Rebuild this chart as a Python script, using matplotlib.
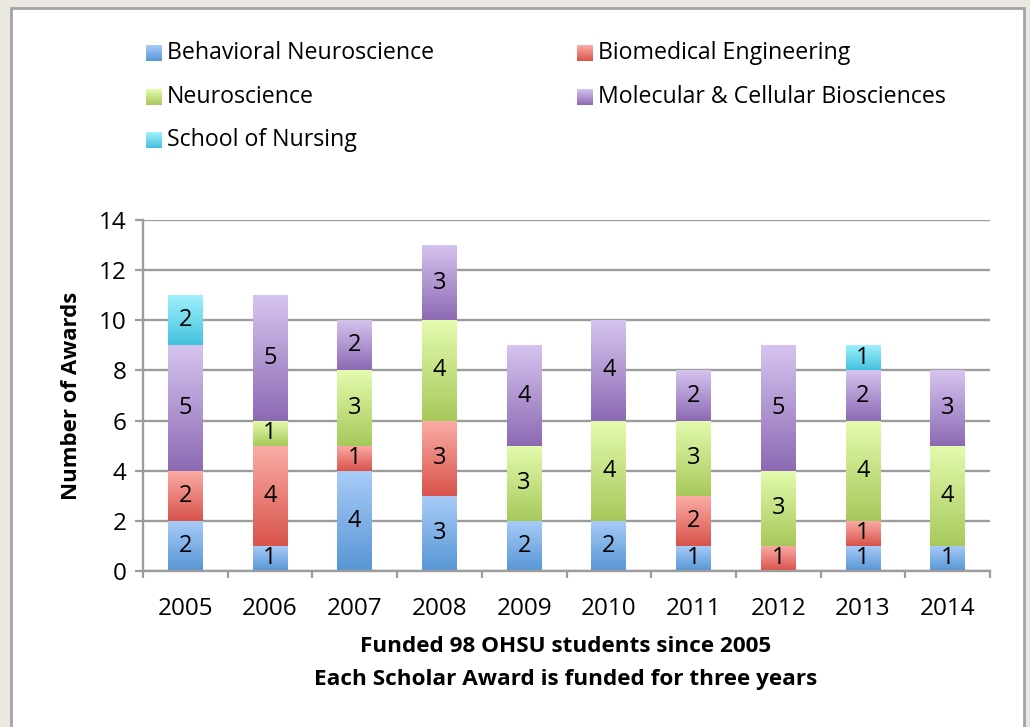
import numpy as np
import matplotlib
matplotlib.use('Agg')
import matplotlib.pyplot as plt
from matplotlib.patches import Rectangle
from matplotlib.colors import to_rgb

plt.rcParams['font.family'] = ['Open Sans', 'DejaVu Sans']

years = ['2005', '2006', '2007', '2008', '2009', '2010', '2011', '2012', '2013', '2014']
behavioral = [2, 1, 4, 3, 2, 2, 1, 0, 1, 1]
biomedical = [2, 4, 1, 3, 0, 0, 2, 1, 1, 0]
neuro = [0, 1, 3, 4, 3, 4, 3, 3, 4, 4]
molecular = [5, 5, 2, 3, 4, 4, 2, 5, 2, 3]
nursing = [2, 0, 0, 0, 0, 0, 0, 0, 1, 0]

series = [
    ('Behavioral Neuroscience', behavioral, '#a9ccf8', '#5796d5'),
    ('Biomedical Engineering', biomedical, '#fbaea7', '#d8534b'),
    ('Neuroscience', neuro, '#e4fbae', '#a7c95b'),
    ('Molecular & Cellular Biosciences', molecular, '#d6c4ef', '#8c6ab4'),
    ('School of Nursing', nursing, '#a2f2fd', '#43c1de'),
]

W, H = 1030, 727
fig = plt.figure(figsize=(W / 100, H / 100), dpi=100)
fig.patch.set_facecolor('#ebe8e2')

# white panel with grey frame
fig.add_artist(Rectangle((11 / W, -0.05), (1024 - 11) / W, 1.05 - 8 / H,
                         transform=fig.transFigure, facecolor='white',
                         edgecolor='#a3a3a3', linewidth=2.0, zorder=0))

ax = fig.add_axes([143 / W, 1 - 571 / H, (990 - 143) / W, (571 - 220) / H])
ax.set_facecolor('none')

x = np.arange(len(years))
width = 0.41
bottom = np.zeros(len(years))
grey = '#9c9c9c'


def gradient(top, bot, n=128):
    t = np.linspace(0, 1, n)[:, None]
    a, b = np.array(to_rgb(top)), np.array(to_rgb(bot))
    return (a * (1 - t) + b * t)[:, None, :]


for name, vals, ctop, cbot in series:
    vals = np.array(vals)
    bars = ax.bar(x, vals, width, bottom=bottom, color=cbot, linewidth=0, zorder=2)
    img = gradient(ctop, cbot)
    for p, v in zip(bars.patches, vals):
        if v <= 0:
            continue
        x0, y0 = p.get_x(), p.get_y()
        im = ax.imshow(img, extent=[x0, x0 + p.get_width(), y0, y0 + p.get_height()],
                       origin='upper', aspect='auto', zorder=2.5, interpolation='bilinear')
        im.set_clip_path(p)
    ax.bar_label(bars, labels=[str(v) if v else '' for v in vals], label_type='center',
                 fontsize=17, color='black', zorder=4)
    bottom += vals

ax.set_xlim(-0.5, len(years) - 0.5)
ax.set_ylim(0, 14)
ax.set_yticks(np.arange(0, 15, 2))
ax.set_xticks(x)
ax.set_xticklabels(years)
ax.set_xticks(np.arange(-0.5, len(years)), minor=True)
ax.tick_params(axis='x', which='major', length=0, labelsize=17.5, pad=19)
ax.tick_params(axis='x', which='minor', length=5, width=1.6, color=grey, direction='out')
ax.tick_params(axis='y', length=6, width=1.6, color=grey, labelsize=17.5, pad=6)

ax.grid(axis='y', color=grey, linewidth=1.7, zorder=0)
ax.set_axisbelow(True)
for s in ['top', 'right']:
    ax.spines[s].set_visible(False)
for s in ['left', 'bottom']:
    ax.spines[s].set_color(grey)
    ax.spines[s].set_linewidth(1.7)

ax.set_ylabel('Number of Awards', fontsize=16, fontweight='bold', labelpad=12)
fig.text(566 / W, 1 - 646 / H, 'Funded 98 OHSU students since 2005',
         ha='center', va='center', fontsize=16.2, fontweight='bold')
fig.text(566 / W, 1 - 679 / H, 'Each Scholar Award is funded for three years',
         ha='center', va='center', fontsize=16.2, fontweight='bold')

# legend, two columns
legend_pos = [(146, 53), (577, 53), (146, 97), (577, 97), (146, 140)]
for (name, vals, ctop, cbot), (px, py) in zip(series, legend_pos):
    sq = fig.add_axes([px / W, 1 - (py + 8) / H, 16 / W, 16 / H])
    sq.imshow(gradient(ctop, cbot), aspect='auto', interpolation='bilinear')
    sq.set_axis_off()
    fig.text((px + 21) / W, 1 - py / H, name, ha='left', va='center', fontsize=16.7)

fig.savefig('out.png', dpi=100, facecolor=fig.get_facecolor())
